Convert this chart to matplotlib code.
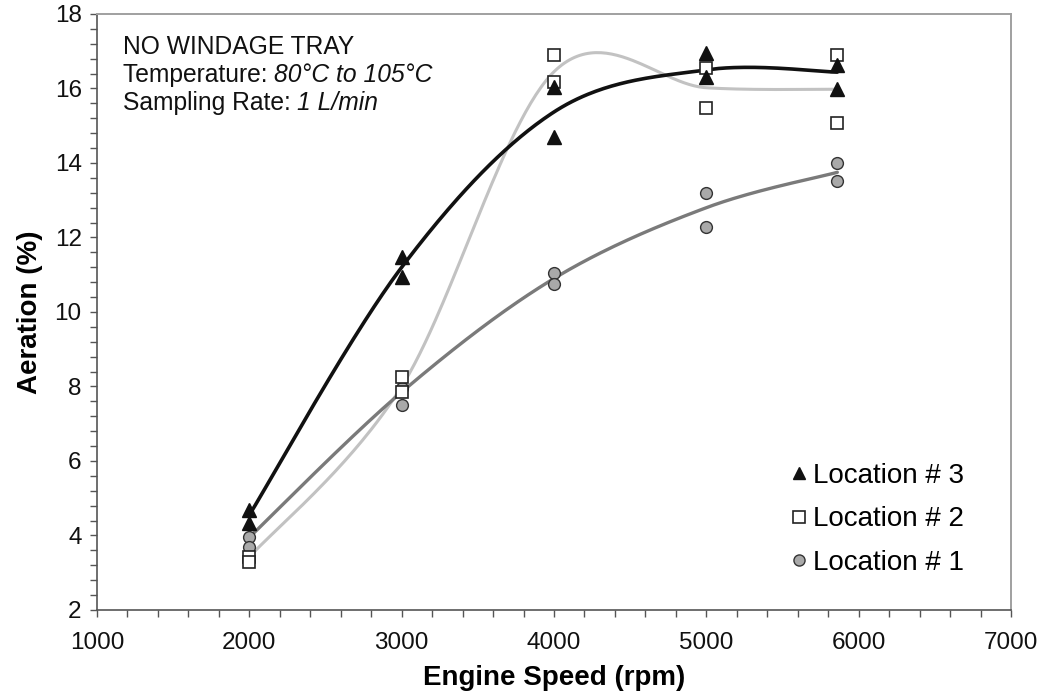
import numpy as np
import matplotlib
matplotlib.use("Agg")
import matplotlib.pyplot as plt
from matplotlib.ticker import MultipleLocator
from matplotlib.lines import Line2D

plt.rcParams["font.family"] = ["Liberation Sans", "DejaVu Sans"]

# Engine speeds at which samples were taken (two samples per speed)
sample_rpm = [2000, 2000, 3000, 3000, 4000, 4000, 5000, 5000, 5860, 5860]
loc3_aeration = [4.68, 4.34, 11.48, 10.94, 16.04, 14.70, 16.95, 16.31, 16.63, 15.99]
loc2_aeration = [3.42, 3.30, 8.25, 7.85, 16.90, 16.17, 16.55, 15.48, 16.90, 15.07]
loc1_aeration = [3.96, 3.69, 7.95, 7.50, 11.05, 10.75, 13.19, 12.28, 14.00, 13.52]

# Mean aeration per speed, drawn as smoothed curves
curve_rpm = [2000, 3000, 4000, 5000, 5860]
loc3_mean = [4.55, 11.20, 15.37, 16.50, 16.44]
loc2_mean = [3.42, 8.00, 16.45, 16.02, 15.98]
loc1_mean = [3.95, 7.85, 10.90, 12.80, 13.75]

x_ticks = [1000, 2000, 3000, 4000, 5000, 6000, 7000]
y_ticks = [2, 4, 6, 8, 10, 12, 14, 16, 18]


def smooth_curve(x, y, n=60):
    """Piecewise cubic Bezier through the points (spreadsheet-style smoothing)."""
    P = np.column_stack([x, y]).astype(float)
    pts = [P[0]]
    t = np.linspace(0, 1, n)[1:, None]
    for i in range(len(P) - 1):
        p0 = P[i - 1] if i > 0 else P[i]
        p1, p2 = P[i], P[i + 1]
        p3 = P[i + 2] if i + 2 < len(P) else P[i + 1]
        c1 = p1 + (p2 - p0) / 6.0
        c2 = p2 - (p3 - p1) / 6.0
        seg = ((1 - t) ** 3) * p1 + 3 * ((1 - t) ** 2) * t * c1 \
            + 3 * (1 - t) * t ** 2 * c2 + t ** 3 * p2
        pts.extend(seg)
    pts = np.array(pts)
    return pts[:, 0], pts[:, 1]


fig = plt.figure(figsize=(10.43, 7.0), dpi=100)
ax = fig.add_axes([0.093, 0.1286, 0.8763, 0.8514])

# Smoothed mean curves
for ys, col, lw in [(loc2_mean, "#c2c2c2", 2.2), (loc1_mean, "#7a7a7a", 2.4),
                    (loc3_mean, "#111111", 2.6)]:
    sx, sy = smooth_curve(curve_rpm, ys)
    ax.plot(sx, sy, color=col, lw=lw, solid_capstyle="round", zorder=2)

# Individual samples
ax.plot(sample_rpm, loc1_aeration, ls="none", marker="o", ms=8.5,
        mfc="#a9a9a9", mec="#333333", mew=1.0, zorder=3)
ax.plot(sample_rpm, loc2_aeration, ls="none", marker="s", ms=8.5,
        mfc="white", mec="#222222", mew=1.2, zorder=4)
ax.plot(sample_rpm, loc3_aeration, ls="none", marker="^", ms=9.5,
        mfc="#111111", mec="#111111", mew=1.0, zorder=5)

ax.set_xlim(1000, 7000)
ax.set_ylim(2, 18)
ax.set_xticks(x_ticks)
ax.set_yticks(y_ticks)
ax.xaxis.set_minor_locator(MultipleLocator(200))
ax.yaxis.set_minor_locator(MultipleLocator(0.4))
ax.tick_params(which="both", direction="out", length=5, width=1.0,
               color="#555555", labelsize=17.5, labelcolor="#111111", pad=6)
ax.tick_params(axis="x", which="major", pad=11)

for side in ["left", "bottom"]:
    ax.spines[side].set_color("#555555")
    ax.spines[side].set_linewidth(1.2)
for side in ["top", "right"]:
    ax.spines[side].set_color("#a0a0a0")
    ax.spines[side].set_linewidth(1.4)

ax.set_xlabel("Engine Speed (rpm)", fontsize=20, fontweight="bold", labelpad=8)
ax.set_ylabel("Aeration (%)", fontsize=20, fontweight="bold", labelpad=8)

# Test conditions
fs = 17.7
ax.text(0.028, 0.965, "NO WINDAGE TRAY", transform=ax.transAxes, fontsize=fs,
        va="top", ha="left", color="#111111")
t1 = ax.text(0.028, 0.918, "Temperature: ", transform=ax.transAxes, fontsize=fs,
             va="top", ha="left", color="#111111")
ax.annotate("80°C to 105°C", xy=(1, 0), xycoords=t1, va="bottom", ha="left",
            fontsize=fs, style="italic", color="#111111")
t2 = ax.text(0.028, 0.871, "Sampling Rate: ", transform=ax.transAxes, fontsize=fs,
             va="top", ha="left", color="#111111")
ax.annotate("1 L/min", xy=(1, 0), xycoords=t2, va="bottom", ha="left",
            fontsize=fs, style="italic", color="#111111")

handles = [
    Line2D([], [], ls="none", marker="^", ms=9, mfc="#111111", mec="#111111"),
    Line2D([], [], ls="none", marker="s", ms=8, mfc="white", mec="#222222", mew=1.2),
    Line2D([], [], ls="none", marker="o", ms=8, mfc="#a9a9a9", mec="#333333"),
]
ax.legend(handles, ["Location # 3", "Location # 2", "Location # 1"],
          loc="lower right", bbox_to_anchor=(0.9695, 0.025), frameon=False,
          fontsize=20, handletextpad=0.05, labelspacing=0.62, handlelength=0.9,
          borderaxespad=0.3)

fig.savefig("out.png", dpi=100)
